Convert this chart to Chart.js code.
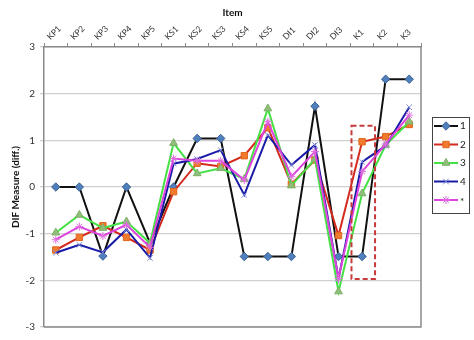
<!DOCTYPE html>
<html>
<head>
<meta charset="utf-8">
<script src="https://cdn.jsdelivr.net/npm/chart.js@4"></script>
<style>
  html, body { margin: 0; padding: 0; background: #fff; }
  #wrap { width: 474px; height: 340px; }
</style>
</head>
<body>
<div id="wrap"><canvas id="chart" width="474" height="340"></canvas></div>
<script>
const items = ['KP1', 'KP2', 'KP3', 'KP4', 'KP5', 'KS1', 'KS2', 'KS3', 'KS4', 'KS5', 'DI1', 'DI2', 'DI3', 'K1', 'K2', 'K3'];
const series1 = [0, 0, -1.48, 0, -1.2, 0, 1.04, 1.04, -1.49, -1.49, -1.49, 1.73, -1.49, -1.49, 2.31, 2.31];
const series2 = [-1.35, -1.08, -0.83, -1.08, -1.35, -0.1, 0.51, 0.44, 0.67, 1.27, 0.06, 0.58, -1.04, 0.97, 1.08, 1.34];
const series3 = [-0.98, -0.6, -0.88, -0.74, -1.2, 0.94, 0.29, 0.4, 0.17, 1.68, 0.03, 0.6, -2.24, -0.14, 0.9, 1.4];
const series4 = [-1.41, -1.24, -1.4, -0.91, -1.52, 0.5, 0.6, 0.79, -0.17, 1.11, 0.47, 0.9, -1.96, 0.54, 0.88, 1.71];
const series5 = [-1.13, -0.85, -1.05, -0.81, -1.29, 0.61, 0.56, 0.56, 0.15, 1.4, 0.22, 0.76, -1.96, 0.33, 0.92, 1.54];
const seriesNames = ['1', '2', '3', '4', '*'];
const yTicks = [-3, -2, -1, 0, 1, 2, 3];

// dashed box around item K1, in data units (category index / value)
const highlight = { from: 12.55, to: 13.55, top: 1.31, bottom: -1.97 };

const FONT = 'Lato, "Liberation Sans", sans-serif';

function makeSet(label, data, line, style, fill, edge, radius, order) {
    return {
        label: label,
        data: data,
        borderColor: line,
        borderWidth: 2,
        pointStyle: style,
        pointBackgroundColor: fill,
        pointBorderColor: edge,
        pointBorderWidth: 1,
        pointRadius: radius,
        tension: 0,
        order: order,
    };
}

const datasets = [
    makeSet(seriesNames[0], series1, '#111111', 'rectRot', '#4f7fbd', '#3a5f8f', 4.2, 5),
    makeSet(seriesNames[1], series2, '#d42a1e', 'rect', '#f07a2e', '#e0661c', 4.5, 4),
    makeSet(seriesNames[2], series3, '#44e044', 'triangle', '#8fbf78', '#7caf66', 4.5, 3),
    makeSet(seriesNames[3], series4, '#1a1aa8', 'crossRot', '#7f8fd8', '#7f8fd8', 4, 2),
    makeSet(seriesNames[4], series5, '#dd44dd', 'star', '#e070e0', '#e070e0', 4, 1),
];

// frame on the right and bottom of the plot, plus the dashed highlight box
const framePlugin = {
    id: 'frame',
    afterDatasetsDraw(chart) {
        const { ctx, chartArea, scales } = chart;
        ctx.save();
        ctx.strokeStyle = '#8a8a8a';
        ctx.lineWidth = 1.5;
        ctx.beginPath();
        ctx.moveTo(chartArea.right, chartArea.top);
        ctx.lineTo(chartArea.right, chartArea.bottom);
        ctx.lineTo(chartArea.left, chartArea.bottom);
        ctx.stroke();

        const x0 = scales.x.getPixelForValue(highlight.from);
        const x1 = scales.x.getPixelForValue(highlight.to);
        const y0 = scales.y.getPixelForValue(highlight.top);
        const y1 = scales.y.getPixelForValue(highlight.bottom);
        ctx.strokeStyle = '#c83a3a';
        ctx.lineWidth = 2;
        ctx.setLineDash([5, 3]);
        ctx.strokeRect(x0, y0, x1 - x0, y1 - y0);
        ctx.restore();
    },
};

// boxed legend with line + marker, like the spreadsheet one
const legendPlugin = {
    id: 'boxLegend',
    afterDraw(chart) {
        const { ctx } = chart;
        const left = 432, top = 117, w = 37, h = 96;
        ctx.save();
        ctx.strokeStyle = '#444';
        ctx.lineWidth = 1;
        ctx.strokeRect(left + 0.5, top + 0.5, w, h);
        chart.data.datasets.forEach((ds, i) => {
            const y = top + 9 + i * 18.5;
            ctx.strokeStyle = ds.borderColor;
            ctx.lineWidth = 2;
            ctx.beginPath();
            ctx.moveTo(left + 2, y);
            ctx.lineTo(left + 26, y);
            ctx.stroke();
            ctx.fillStyle = ds.pointBackgroundColor;
            ctx.strokeStyle = ds.pointBorderColor;
            ctx.lineWidth = 1;
            Chart.helpers.drawPoint(ctx, { pointStyle: ds.pointStyle, radius: ds.pointRadius, rotation: 0, borderWidth: 1 }, left + 14, y);
            ctx.fillStyle = '#222';
            ctx.font = '10px ' + FONT;
            ctx.textAlign = 'left';
            ctx.textBaseline = 'middle';
            ctx.fillText(ds.label, left + 28, y + (ds.label === '*' ? 2 : 0));
        });
        ctx.restore();
    },
};

new Chart(document.getElementById('chart'), {
    type: 'line',
    data: { labels: items, datasets: datasets },
    plugins: [framePlugin, legendPlugin],
    options: {
        responsive: false,
        animation: false,
        layout: { padding: { top: 0, right: 53, bottom: 13, left: 0 } },
        plugins: { legend: { display: false }, tooltip: { enabled: false } },
        scales: {
            x: {
                position: 'top',
                offset: true,
                afterFit(s) { s.height = 47; },
                grid: { drawOnChartArea: false, tickLength: 4, color: '#8a8a8a', offset: true },
                border: { color: '#8a8a8a', width: 1.5 },
                ticks: { maxRotation: 45, minRotation: 45, padding: 1, color: '#333', font: { family: FONT, size: 8.5 } },
                title: { display: true, text: 'Item', color: '#111', padding: { top: 7, bottom: 0 }, font: { family: FONT, size: 10, weight: 'bold' } },
            },
            y: {
                min: yTicks[0],
                max: yTicks[yTicks.length - 1],
                afterFit(s) { s.width = 44; },
                afterBuildTicks(s) { s.ticks = yTicks.map(v => ({ value: v })); },
                grid: { color: '#d0d0d0', lineWidth: 1.3, tickLength: 4 },
                border: { color: '#8a8a8a', width: 1.5 },
                ticks: { padding: 5, color: '#333', font: { family: FONT, size: 10 } },
                title: { display: true, text: 'DIF Measure (diff.)', color: '#111', padding: { top: 10, bottom: 0 }, font: { family: FONT, size: 10, weight: 'bold' } },
            },
        },
    },
});
</script>
</body>
</html>
